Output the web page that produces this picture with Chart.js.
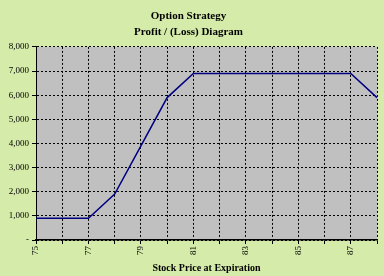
<!DOCTYPE html>
<html><head><meta charset="utf-8">
<script src="https://cdn.jsdelivr.net/npm/chart.js@4/dist/chart.umd.min.js"></script>
<style>html,body{margin:0;padding:0;background:#d5eba9;}#wrap{width:384px;height:276px;}</style>
</head><body><div id="wrap"><canvas id="c" width="384" height="276"></canvas></div>
<script>
const categories = ["75","76","77","78","79","80","81","82","83","84","85","86","87","88"];
const profit = [900,900,900,1900,3900,5900,6900,6900,6900,6900,6900,6900,6900,5900];
const yTicks = [0,1000,2000,3000,4000,5000,6000,7000,8000];

const bgPlugin = {
  id:'bg',
  beforeDraw(chart){
    const {ctx, chartArea:a} = chart;
    ctx.save();
    ctx.fillStyle = '#d5eba9';
    ctx.fillRect(0,0,chart.width,chart.height);
    ctx.fillStyle = '#c0c0c0';
    ctx.fillRect(a.left,a.top,a.right-a.left,a.bottom-a.top);
    ctx.restore();
  }
};

new Chart(document.getElementById('c'), {
  type:'line',
  data:{labels:categories, datasets:[{data:profit, borderColor:'#000080', borderWidth:1.5, pointRadius:0, tension:0, fill:false}]},
  plugins:[bgPlugin],
  options:{
    responsive:false, animation:false,
    layout:{padding:{left:0,right:7,top:4,bottom:2}},
    plugins:{
      legend:{display:false}, tooltip:{enabled:false},
      title:{display:true, text:['Option Strategy','Profit / (Loss) Diagram'], color:'#000',
        font:{family:'Liberation Serif', size:11, weight:'bold', lineHeight:1.45}, padding:{top:4,bottom:7}}
    },
    scales:{
      x:{
        offset:false,
        grid:{color:'#000', lineWidth:1, tickLength:4, tickColor:'#000', drawTicks:true, offset:false},
        border:{display:true, color:'#000', width:1.5, dash:[2,2]},
        ticks:{color:'#000', font:{family:'Liberation Serif', size:9}, maxRotation:90, minRotation:90, autoSkip:false,
          padding:2, callback:(v,i)=> (i%2===0 ? categories[i] : '')},
        title:{display:true, text:'Stock Price at Expiration', color:'#000', font:{family:'Liberation Serif', size:10, weight:'bold'}, padding:{top:4,bottom:0}},
        afterFit(s){ s.height = 34; s.paddingRight = 0; s.paddingLeft = 0; }
      },
      y:{
        min:0, max:8000,
        afterBuildTicks(s){ s.ticks = yTicks.map(v=>({value:v})); },
        grid:{color:'#000', lineWidth:1, tickLength:4, tickColor:'#000'},
        border:{display:true, color:'#000', width:1, dash:[2,2]},
        ticks:{color:'#000', font:{family:'Liberation Serif', size:9}, padding:3,
          callback:(v)=> v===0 ? '-' : v.toLocaleString('en-US')},
        afterFit(s){ s.width = 36; s.paddingTop = 0; s.paddingBottom = 0; }
      }
    }
  },
});
</script>
</body></html>
